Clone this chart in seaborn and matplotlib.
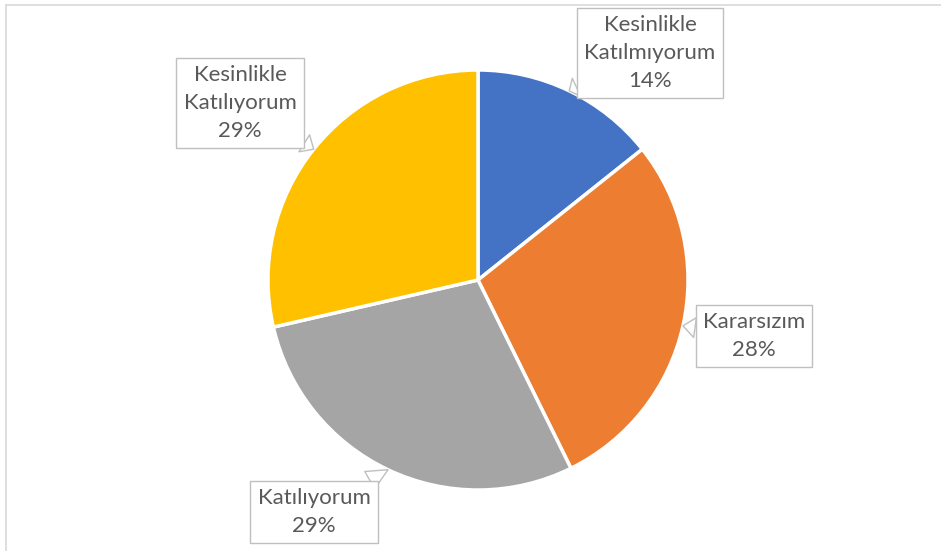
import numpy as np
import seaborn as sns
import matplotlib.pyplot as plt
from matplotlib.lines import Line2D

categories = ['Kesinlikle\nKatılmıyorum', 'Kararsızım', 'Katılıyorum', 'Kesinlikle\nKatılıyorum']
shares = [14.3, 28.4, 28.7, 28.6]
colors = ['#4472C4', '#ED7D31', '#A5A5A5', '#FFC000']
# centres of the callout boxes, in pixels from top-left
label_pos = [(650, 53), (754, 336), (314, 512), (240, 103)]

sns.set_theme(style='white')
plt.rcParams['font.family'] = ['Lato', 'DejaVu Sans']

W, H = 941, 551
fig = plt.figure(figsize=(W / 100, H / 100), dpi=100)
ax = fig.add_axes([0, 0, 1, 1])

cx, cy, r = 478, H - 280, 210
wedges, _ = ax.pie(shares, colors=colors, startangle=90, counterclock=False,
                   center=(cx, cy), radius=r,
                   wedgeprops=dict(edgecolor='white', linewidth=2.5))
ax.set_xlim(0, W)
ax.set_ylim(0, H)
ax.set_aspect('equal')
ax.axis('off')

for w, cat, share, (px, py) in zip(wedges, categories, shares, label_pos):
    mid = np.deg2rad((w.theta1 + w.theta2) / 2)
    tip = (cx + r * np.cos(mid), cy + r * np.sin(mid))
    ax.annotate(f'{cat}\n{round(share)}%', xy=tip, xytext=(px, H - py),
                ha='center', va='center', multialignment='center',
                fontsize=16, color='#595959', linespacing=1.5,
                bbox=dict(boxstyle='square,pad=0.33', fc='white', ec='#BFBFBF', lw=1),
                arrowprops=dict(arrowstyle='wedge,tail_width=0.9,shrink_factor=0.5',
                                fc='white', ec='#BFBFBF', lw=1, shrinkA=0, shrinkB=0))

fig.add_artist(Line2D([6 / W, 6 / W], [0, 1 - 5 / H], transform=fig.transFigure,
                      color='#D9D9D9', lw=1.2))
fig.add_artist(Line2D([6 / W, 1], [1 - 5 / H, 1 - 5 / H], transform=fig.transFigure,
                      color='#D9D9D9', lw=1.2))

fig.savefig('out.png', dpi=100)
